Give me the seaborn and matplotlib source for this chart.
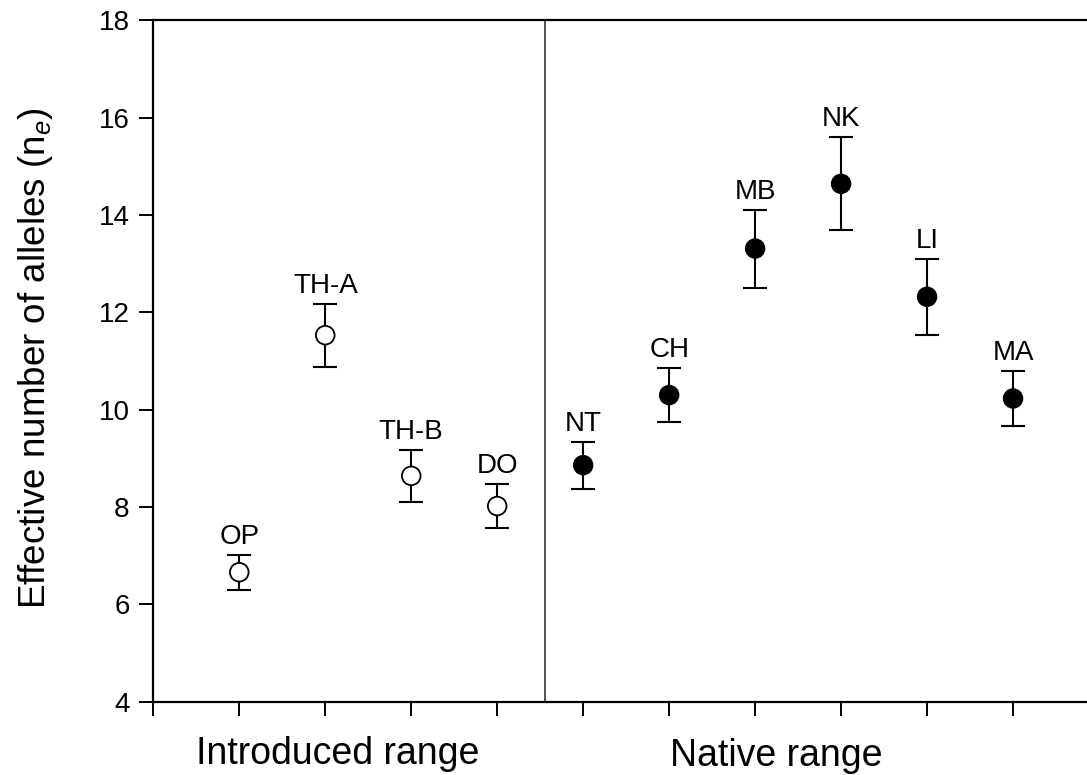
import numpy as np
import pandas as pd
import matplotlib
matplotlib.use("Agg")
import matplotlib.pyplot as plt
import matplotlib.transforms as mtransforms
import seaborn as sns

# ---- data ----
populations = ["OP", "TH-A", "TH-B", "DO", "NT", "CH", "MB", "NK", "LI", "MA"]
ranges = ["Introduced", "Introduced", "Introduced", "Introduced",
          "Native", "Native", "Native", "Native", "Native", "Native"]
ne_mean = [6.66, 11.53, 8.64, 8.02, 8.86, 10.30, 13.31, 14.64, 12.32, 10.23]
ne_err = [0.36, 0.645, 0.53, 0.45, 0.48, 0.56, 0.80, 0.955, 0.78, 0.57]
group_labels = ["Introduced range", "Native range"]
y_ticks = [4, 6, 8, 10, 12, 14, 16, 18]

df = pd.DataFrame({"pop": populations, "range": ranges,
                   "ne": ne_mean, "err": ne_err})
df["pos"] = np.arange(1, len(df) + 1)

sns.set_theme(style="ticks")
plt.rcParams["font.family"] = ["Liberation Sans", "DejaVu Sans"]
plt.rcParams["mathtext.fontset"] = "custom"
plt.rcParams["mathtext.rm"] = "Liberation Sans"
plt.rcParams["mathtext.it"] = "Liberation Sans:italic"

fig = plt.figure(figsize=(10.87, 7.75), dpi=100)
ax = fig.add_axes([153.3 / 1087, 73.3 / 775, 1 - 153.3 / 1087, 681.4 / 775])

# error bars
ax.errorbar(df["pos"], df["ne"], yerr=df["err"], fmt="none", ecolor="black",
            elinewidth=1.5, capsize=8.5, capthick=1.5, zorder=2)

# points
sns.scatterplot(data=df, x="pos", y="ne", hue="range",
                palette={"Introduced": "white", "Native": "black"},
                edgecolor="black", linewidth=1.3, s=180, legend=False,
                zorder=3, ax=ax)

# labels above error bars
for _, r in df.iterrows():
    ax.annotate(r["pop"], xy=(r["pos"], r["ne"] + r["err"]),
                xytext=(0, 8), textcoords="offset points",
                ha="center", va="baseline", fontsize=20, color="black")

# divider between ranges
n_intro = sum(1 for g in ranges if g == "Introduced")
ax.axvline(n_intro + 0.56, color="#222222", linewidth=1.1, zorder=1)

ax.set_xlim(0, 10.86)
ax.set_ylim(4, 18)
ax.set_xticks(np.arange(0, len(df) + 1))
ax.set_xticklabels([])
ax.set_yticks(y_ticks)
ax.set_yticklabels([str(t) for t in y_ticks], fontsize=20)
ax.tick_params(axis="both", direction="out", length=10, width=1.4,
               color="black", pad=7)
ax.tick_params(axis="y", labelcolor="black")
ax.set_xlabel("")
ax.set_ylabel("")
for side in ["left", "bottom", "top"]:
    ax.spines[side].set_linewidth(1.6)
    ax.spines[side].set_color("black")
ax.spines["right"].set_visible(False)

# group labels
trans = mtransforms.blended_transform_factory(ax.transData, ax.transAxes)
ax.text(2.15, -0.092, group_labels[0], transform=trans, ha="center",
        va="baseline", fontsize=27, color="black")
ax.text(7.25, -0.094, group_labels[1], transform=trans, ha="center",
        va="baseline", fontsize=27, color="black")

fig.text(36 / 1087, 1 - 358 / 775,
         r"Effective number of alleles (n$_{\mathit{e}}$)",
         rotation=90, ha="center", va="center", fontsize=26.5, color="black")

fig.savefig("out.png", dpi=100, facecolor="white")
